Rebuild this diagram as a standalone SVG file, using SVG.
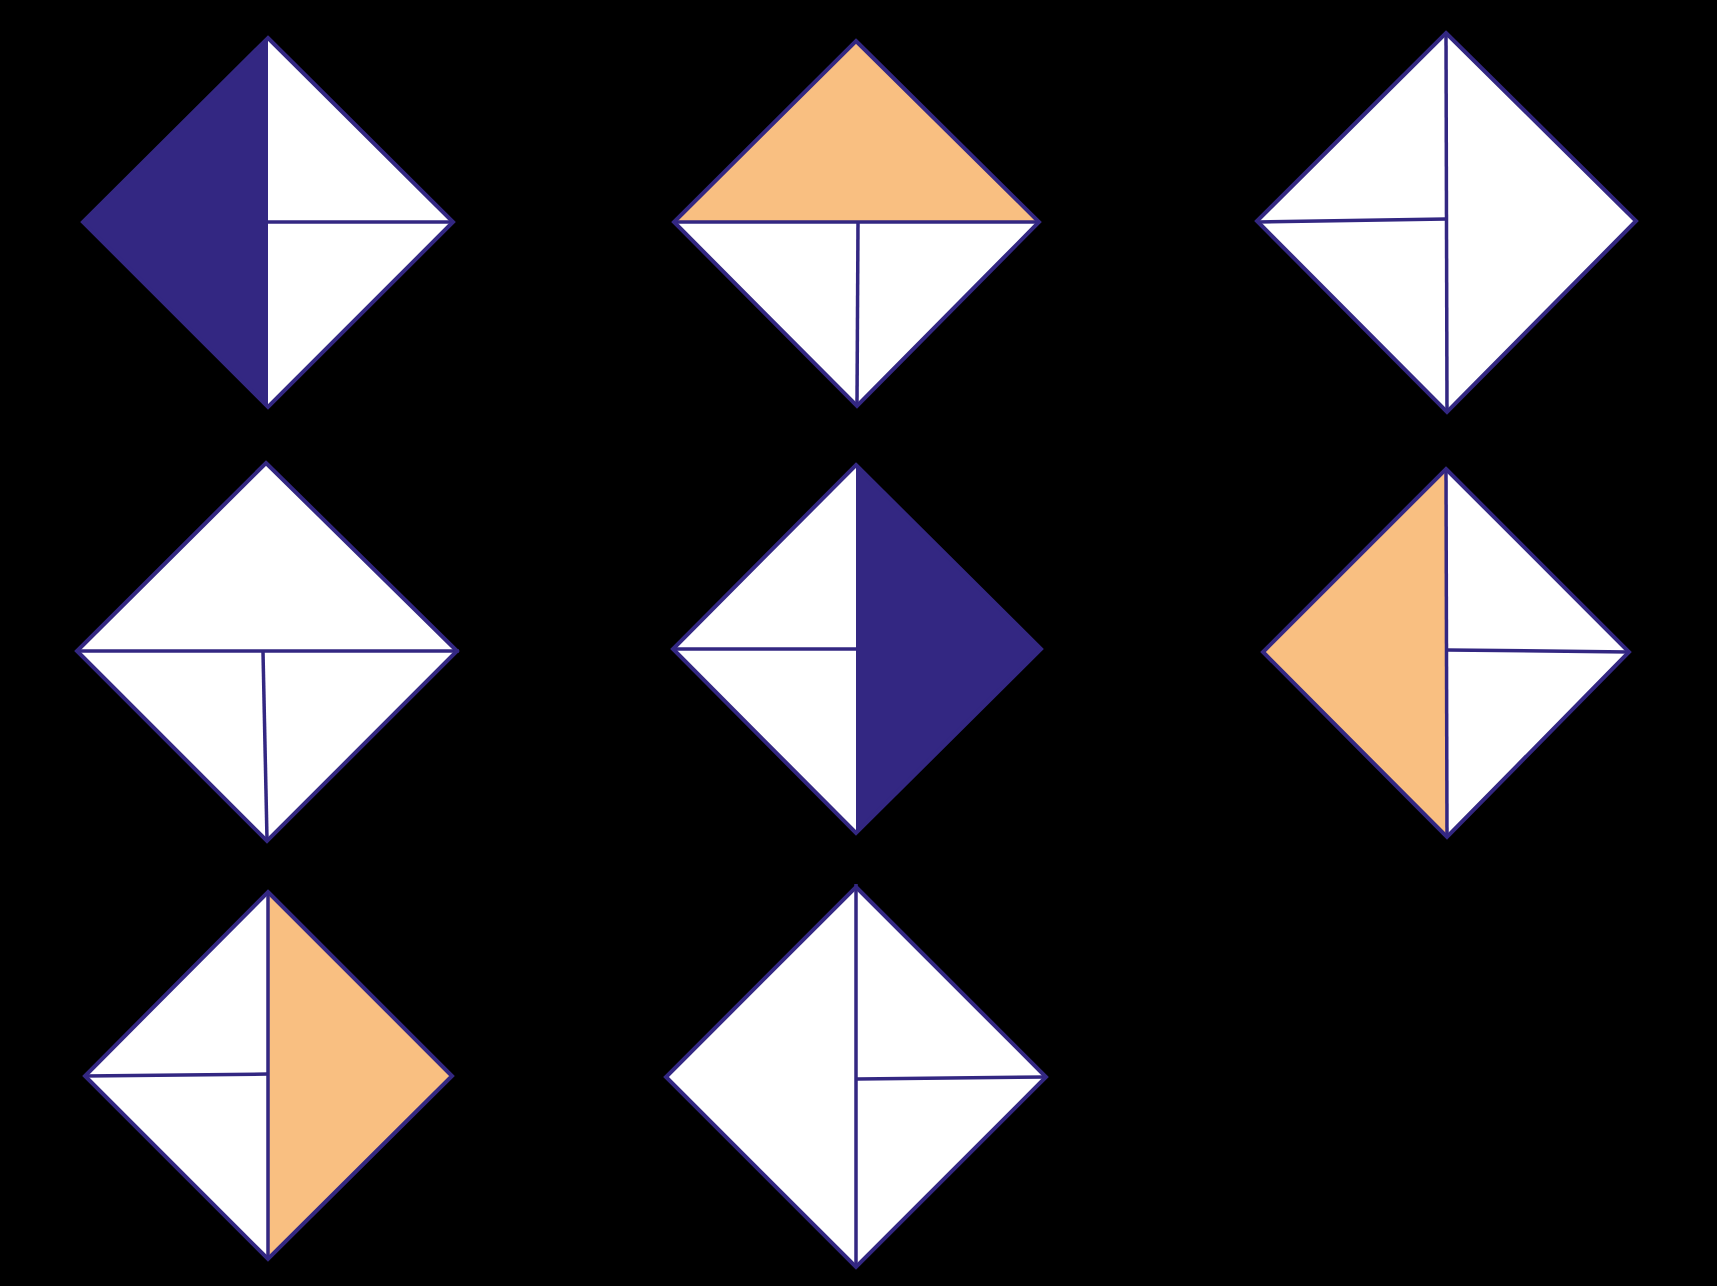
<svg xmlns="http://www.w3.org/2000/svg" width="1717" height="1286" viewBox="0 0 1717 1286">
<style>
.bg{fill:#000}
.w{fill:#fff}
.n{fill:#332782}
.o{fill:#F9BF81}
.s{fill:none;stroke:#332782;stroke-width:4;stroke-linejoin:miter}
.l{fill:none;stroke:#332782;stroke-width:3.5}
</style>
<rect class="bg" x="0" y="0" width="1717" height="1286"/>
<g id="d1">
<polygon class="w" points="268,38 453,222 268,407 83,222"/>
<polygon class="n" points="268,38 268,407 83,222"/>
<line class="l" x1="268" y1="222" x2="453" y2="222"/>
<polygon class="s" points="268,38 453,222 268,407 83,222"/>
</g>
<g id="d2">
<polygon class="w" points="856,41 1039,222 857,406 674,222"/>
<polygon class="o" points="856,41 1039,222 674,222"/>
<line class="l" x1="674" y1="222" x2="1039" y2="222"/>
<line class="l" x1="858" y1="222" x2="857" y2="404"/>
<polygon class="s" points="856,41 1039,222 857,406 674,222"/>
</g>
<g id="d3">
<polygon class="w" points="1446,33 1636,221 1447,412 1257,221"/>
<line class="l" x1="1446" y1="33" x2="1447" y2="412"/>
<line class="l" x1="1257" y1="222" x2="1446" y2="219"/>
<polygon class="s" points="1446,33 1636,221 1447,412 1257,221"/>
</g>
<g id="d4">
<polygon class="w" points="266,463 457,651 267,841 77,651"/>
<line class="l" x1="77" y1="651" x2="459" y2="651"/>
<line class="l" x1="263" y1="652" x2="267" y2="839"/>
<polygon class="s" points="266,463 457,651 267,841 77,651"/>
</g>
<g id="d5">
<polygon class="w" points="856,465 1041,649 856,833 673,649"/>
<polygon class="n" points="856,465 1041,649 856,833"/>
<line class="l" x1="673" y1="649" x2="856" y2="649"/>
<polygon class="s" points="856,465 1041,649 856,833 673,649"/>
</g>
<g id="d6">
<polygon class="w" points="1446,469 1629,652 1447,837 1263,652"/>
<polygon class="o" points="1446,469 1447,837 1263,652"/>
<line class="l" x1="1446" y1="469" x2="1447" y2="837"/>
<line class="l" x1="1447" y1="650" x2="1629" y2="652"/>
<polygon class="s" points="1446,469 1629,652 1447,837 1263,652"/>
</g>
<g id="d7">
<polygon class="w" points="268,892 452,1076 268,1259 85,1076"/>
<polygon class="o" points="268,892 452,1076 268,1259"/>
<line class="l" x1="268" y1="892" x2="268" y2="1259"/>
<line class="l" x1="85" y1="1076" x2="268" y2="1074"/>
<polygon class="s" points="268,892 452,1076 268,1259 85,1076"/>
</g>
<g id="d8">
<polygon class="w" points="856,887 1046,1077 856,1267 666,1077"/>
<line class="l" x1="856" y1="884" x2="856" y2="1267"/>
<line class="l" x1="857" y1="1079" x2="1046" y2="1077"/>
<polygon class="s" points="856,887 1046,1077 856,1267 666,1077"/>
</g>
<g id="connectors"></g>
</svg>
